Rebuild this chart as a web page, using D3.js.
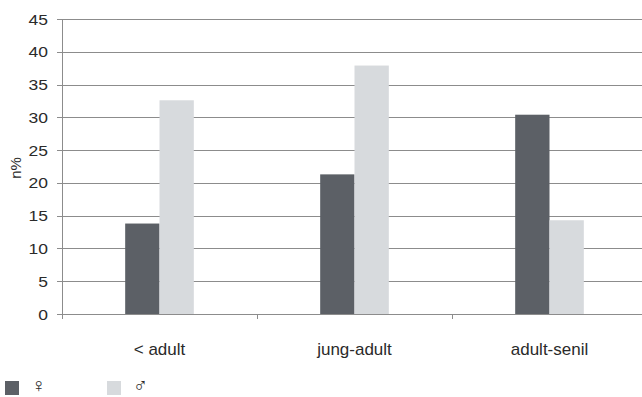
<!DOCTYPE html>
<html>
<head>
<meta charset="utf-8">
<script src="https://cdn.jsdelivr.net/npm/d3@7"></script>
<style>
  html, body { margin: 0; padding: 0; background: #fff; }
  svg { display: block; }
  text { font-family: "Liberation Sans", Arial, sans-serif; fill: #2a2a2a; }
</style>
</head>
<body>
<svg id="chart" width="642" height="397"></svg>
<script>
// Age groups and share (n%) per sex
const categories = ["< adult", "jung-adult", "adult-senil"];
const seriesNames = ["♀", "♂"];
const female = [13.8, 21.3, 30.4];
const male = [32.6, 37.9, 14.3];
const yTicks = [0, 5, 10, 15, 20, 25, 30, 35, 40, 45];
const yLabel = "n%";

const colors = ["#5c6066", "#d7dadd"];

const svg = d3.select("#chart");
const plot = { left: 62, right: 647, top: 19, bottom: 314 };

const x = d3.scaleBand()
  .domain(categories)
  .range([plot.left, plot.right])
  .paddingInner(0.648)
  .paddingOuter(0.324);

const xInner = d3.scaleBand()
  .domain(seriesNames)
  .range([0, x.bandwidth()]);

const y = d3.scaleLinear()
  .domain([0, 45])
  .range([plot.bottom, plot.top]);

// Horizontal grid lines
svg.append("g")
  .selectAll("line")
  .data(yTicks)
  .join("line")
  .attr("x1", plot.left - 5)
  .attr("x2", 642)
  .attr("y1", d => Math.round(y(d)) + 0.5)
  .attr("y2", d => Math.round(y(d)) + 0.5)
  .attr("stroke", "#8c8c8c")
  .attr("stroke-width", 1);

// Y axis line
svg.append("line")
  .attr("x1", plot.left + 0.5).attr("x2", plot.left + 0.5)
  .attr("y1", plot.top).attr("y2", plot.bottom + 5)
  .attr("stroke", "#8c8c8c");

// Category separator ticks
const step = x.step();
svg.append("g")
  .selectAll("line")
  .data(categories.slice(1))
  .join("line")
  .attr("x1", d => Math.round(x(d) - x.paddingInner() * step / 2) + 0.5)
  .attr("x2", d => Math.round(x(d) - x.paddingInner() * step / 2) + 0.5)
  .attr("y1", plot.bottom)
  .attr("y2", plot.bottom + 5)
  .attr("stroke", "#8c8c8c");

// Y tick labels
svg.append("g")
  .selectAll("text")
  .data(yTicks)
  .join("text")
  .attr("transform", d => `translate(48,${y(d) + 5.5}) scale(1.25,1)`)
  .attr("text-anchor", "end")
  .attr("font-size", 14)
  .text(d => d);

// Y axis title
svg.append("text")
  .attr("transform", "translate(21,168) rotate(-90)")
  .attr("text-anchor", "middle")
  .attr("font-size", 15)
  .text(yLabel);

// Bars
const data = categories.map((c, i) => ({ cat: c, values: [female[i], male[i]] }));
const groups = svg.append("g")
  .selectAll("g")
  .data(data)
  .join("g")
  .attr("transform", d => `translate(${x(d.cat)},0)`);

groups.selectAll("rect")
  .data(d => d.values.map((v, j) => ({ name: seriesNames[j], v, j })))
  .join("rect")
  .attr("x", d => xInner(d.name))
  .attr("width", xInner.bandwidth())
  .attr("y", d => y(d.v))
  .attr("height", d => y(0) - y(d.v))
  .attr("fill", d => colors[d.j]);

// Category labels
svg.append("g")
  .selectAll("text")
  .data(categories)
  .join("text")
  .attr("x", d => x(d) + x.bandwidth() / 2)
  .attr("y", 355)
  .attr("text-anchor", "middle")
  .attr("font-size", 17)
  .text(d => d);

// Legend
const legendX = [5, 107];
const legend = svg.append("g")
  .selectAll("g")
  .data(seriesNames)
  .join("g")
  .attr("transform", (d, i) => `translate(${legendX[i]},381)`);
legend.append("rect")
  .attr("width", 14).attr("height", 14)
  .attr("fill", (d, i) => colors[i]);
legend.append("text")
  .attr("x", 26)
  .attr("y", 11)
  .attr("font-family", "DejaVu Sans, sans-serif")
  .attr("font-size", 20)
  .text(d => d);
</script>
</body>
</html>
